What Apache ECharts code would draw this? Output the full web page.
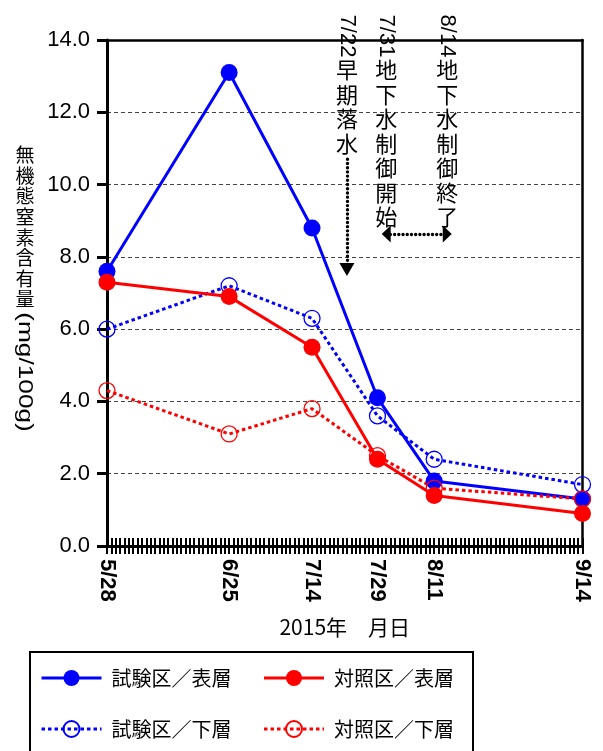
<!DOCTYPE html>
<html>
<head>
<meta charset="utf-8">
<script src="https://cdn.jsdelivr.net/npm/echarts@6/dist/echarts.min.js"></script>
<style>
html, body { margin: 0; padding: 0; background: #fff; }
#chart { width: 603px; height: 751px; }
</style>
</head>
<body>
<div id="chart"></div>
<script>
// Sampling year and sampling dates (month/day)
const year = 2015;
const sampleDates = ['5/28', '6/25', '7/14', '7/29', '8/11', '9/14'];

// Inorganic nitrogen content (mg/100g)
const testSurface = [7.6, 13.1, 8.8, 4.1, 1.8, 1.3];
const testSubsoil = [6.0, 7.2, 6.3, 3.6, 2.4, 1.7];
const ctrlSurface = [7.3, 6.9, 5.5, 2.4, 1.4, 0.9];
const ctrlSubsoil = [4.3, 3.1, 3.8, 2.5, 1.6, 1.3];

const seriesNames = ['試験区／表層', '試験区／下層', '対照区／表層', '対照区／下層'];
const legendOrder = ['試験区／表層', '対照区／表層', '試験区／下層', '対照区／下層'];

// Field management events
const eventDates = ['7/22', '7/31', '8/14'];
const eventTexts = ['早期落水', '地下水制御開始', '地下水制御終了'];

const yTitleMain = '無機態窒素含有量';
const yTitleUnit = '(mg/100g)';
const xTitle = '2015年　月日';

const LATIN = '"Liberation Sans", Arial, sans-serif';
const CJK = '"Noto Sans CJK JP", "Noto Sans", sans-serif';

// day count since the first sampling date
function dayOf(md) {
  const [m, d] = md.split('/').map(Number);
  const [m0, d0] = sampleDates[0].split('/').map(Number);
  return Math.round((Date.UTC(year, m - 1, d) - Date.UTC(year, m0 - 1, d0)) / 86400000);
}
const lastDay = dayOf(sampleDates[sampleDates.length - 1]);
const labelByDay = {};
sampleDates.forEach(d => { labelByDay[dayOf(d)] = d; });

const toPoints = vals => sampleDates.map((d, i) => [dayOf(d), vals[i]]);

const BLUE = '#0000ff';
const RED = '#ff0000';
const DOT = [3.5, 3];

function solidSeries(name, color, vals) {
  return {
    name, type: 'line', data: toPoints(vals), clip: false,
    symbol: 'circle', symbolSize: 17,
    lineStyle: { color, width: 3 },
    itemStyle: { color, borderWidth: 0 }
  };
}
function dottedSeries(name, color, vals) {
  return {
    name, type: 'line', data: toPoints(vals), clip: false,
    symbol: 'circle', symbolSize: 16,
    lineStyle: { color, width: 3, type: DOT },
    itemStyle: { color: 'rgba(255,255,255,0)', borderColor: color, borderWidth: 1.3 }
  };
}

const series = [
  solidSeries(seriesNames[0], BLUE, testSurface),
  dottedSeries(seriesNames[1], BLUE, testSubsoil),
  solidSeries(seriesNames[2], RED, ctrlSurface),
  dottedSeries(seriesNames[3], RED, ctrlSubsoil)
];

// arrows: early drainage, and groundwater control period
series[0].markLine = {
  silent: true,
  animation: false,
  label: { show: false },
  lineStyle: { color: '#000', width: 3.4, type: [0.01, 4.2], cap: 'round' },
  emphasis: { disabled: true },
  data: [
    [
      { coord: [dayOf(eventDates[0]), 10.7], symbol: 'none' },
      { coord: [dayOf(eventDates[0]), 7.65], symbol: 'triangle', symbolSize: [15, 13] }
    ],
    [
      { coord: [dayOf(eventDates[1]), 8.63], symbol: 'triangle', symbolSize: [17, 9] },
      { coord: [dayOf(eventDates[2]), 8.63], symbol: 'triangle', symbolSize: [17, 9] }
    ]
  ]
};

const chart = echarts.init(document.getElementById('chart'), null, { renderer: 'canvas' });

const option = {
  animation: false,
  backgroundColor: '#fff',
  grid: { left: 107, right: 20.5, top: 40, bottom: 205, outerBoundsMode: 'none' },
  xAxis: [
    {
      type: 'value', min: 0, max: lastDay, interval: 1, position: 'bottom',
      axisLine: { show: true, onZero: false, lineStyle: { color: '#000', width: 3 } },
      axisTick: { show: true, inside: false, length: 8, lineStyle: { color: '#000', width: 2 } },
      axisLabel: {
        show: true, interval: 0, rotate: -90, margin: 13,
        customValues: sampleDates.map(dayOf),
        formatter: v => labelByDay[v] || '',
        color: '#000', fontFamily: LATIN, fontSize: 22, fontWeight: 'bold'
      },
      splitLine: { show: false },
      name: xTitle, nameLocation: 'middle', nameGap: 71, nameMoveOverlap: false,
      nameTextStyle: { color: '#000', fontFamily: CJK, fontSize: 21 }
    },
    {
      type: 'value', min: 0, max: lastDay, interval: 1, position: 'bottom',
      axisLine: { show: false, onZero: false },
      axisTick: { show: true, inside: true, length: 8, lineStyle: { color: '#000', width: 2 } },
      axisLabel: { show: false },
      splitLine: { show: false }
    },
    {
      type: 'value', min: 0, max: lastDay, position: 'top',
      axisLine: { show: true, onZero: false, lineStyle: { color: '#000', width: 2.5 } },
      axisTick: { show: false }, axisLabel: { show: false }, splitLine: { show: false }
    }
  ],
  yAxis: [
    {
      type: 'value', min: 0, max: 14, interval: 2, position: 'left',
      axisLine: { show: true, onZero: false, lineStyle: { color: '#000', width: 3 } },
      axisTick: { show: true, inside: false, length: 10, lineStyle: { color: '#000', width: 3 } },
      axisLabel: {
        margin: 17, color: '#000', fontFamily: LATIN, fontSize: 22,
        formatter: v => v.toFixed(1)
      },
      splitLine: { show: true, lineStyle: { color: '#444', width: 1, type: [4, 3] } }
    },
    {
      type: 'value', min: 0, max: 14, position: 'right',
      axisLine: { show: true, onZero: false, lineStyle: { color: '#000', width: 2.5 } },
      axisTick: { show: false }, axisLabel: { show: false }, splitLine: { show: false }
    }
  ],
  legend: {
    data: legendOrder,
    left: 30, top: 652, width: 450,
    orient: 'horizontal',
    itemWidth: 60, itemHeight: 20, itemGap: 31,
    padding: [16, 19, 16, 10],
    borderColor: '#000', borderWidth: 2,
    lineStyle: { width: 3 },
    textStyle: { color: '#000', fontFamily: CJK, fontSize: 20, padding: [0, 0, 0, 5] }
  },
  series
};
chart.setOption(option);

// vertical annotation text and the vertical y-axis title
const graphics = [];
eventDates.forEach((d, i) => {
  const px = chart.convertToPixel({ xAxisIndex: 0 }, dayOf(d));
  graphics.push({
    type: 'text', x: px, y: 36, rotation: -Math.PI / 2, z: 10,
    style: { text: d, fontFamily: LATIN, fontSize: 22, fill: '#000', align: 'center', verticalAlign: 'middle' }
  });
  graphics.push({
    type: 'text', x: px, y: 57.75, z: 10,
    style: {
      text: eventTexts[i].split('').join('\n'), fontFamily: CJK, fontSize: 22, lineHeight: 24.5,
      fill: '#000', align: 'center', verticalAlign: 'top'
    }
  });
});
graphics.push({
  type: 'text', x: 25, y: 144.7, z: 10,
  style: {
    text: yTitleMain.split('').join('\n'), fontFamily: CJK, fontSize: 19, lineHeight: 20.6,
    fill: '#000', align: 'center', verticalAlign: 'top'
  }
});
graphics.push({
  type: 'text', x: 25, y: 372, rotation: -Math.PI / 2, scaleX: 1.25, z: 10,
  style: { text: yTitleUnit, fontFamily: LATIN, fontSize: 21, fill: '#000', align: 'center', verticalAlign: 'middle' }
});
chart.setOption({ graphic: graphics });
</script>
</body>
</html>
